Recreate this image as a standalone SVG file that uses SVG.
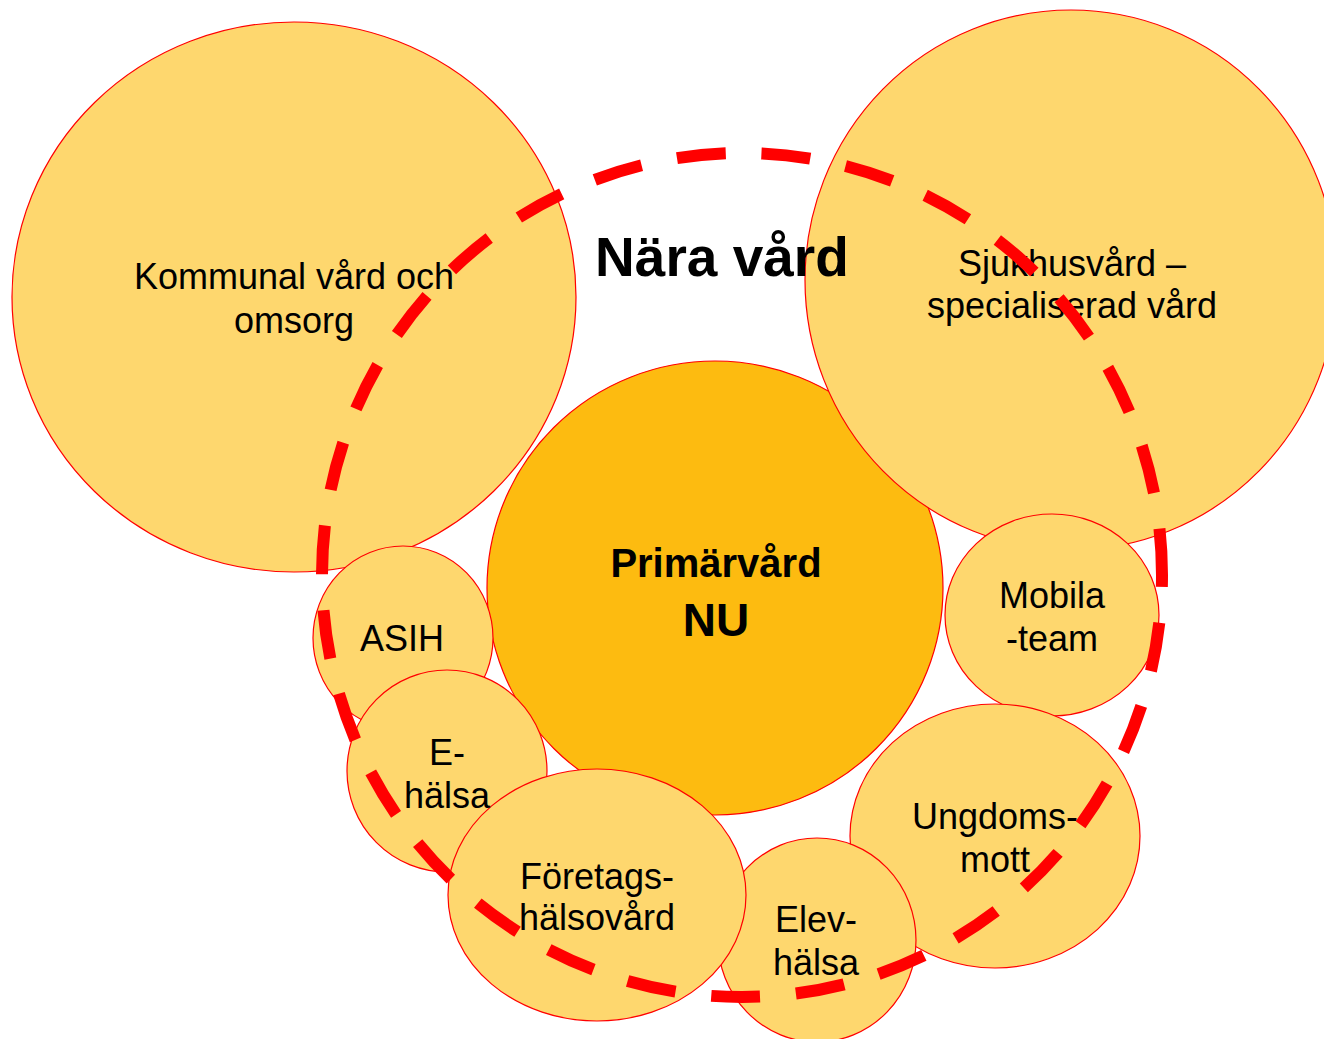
<svg xmlns="http://www.w3.org/2000/svg" width="1324" height="1039" viewBox="0 0 1324 1039">
<style>
.lt{fill:#FED76E;stroke:#FF0000;stroke-width:1.2}
.pr{fill:#FDBB10;stroke:#FF0000;stroke-width:1.2}
.t{font-family:"Liberation Sans",Arial,sans-serif;font-size:36px;fill:#000;text-anchor:middle}
.b{font-family:"Liberation Sans",Arial,sans-serif;font-weight:bold;fill:#000;text-anchor:middle}
.dash{fill:none;stroke:#FF0000;stroke-width:12;stroke-dasharray:49 36;stroke-dashoffset:37}
</style>
<rect width="1324" height="1039" fill="#FFFFFF"/>
<g id="primarvard"><ellipse class="pr" cx="715" cy="588" rx="228" ry="227"/></g>
<g id="kommunal"><ellipse class="lt" cx="294" cy="297" rx="282" ry="275"/></g>
<g id="sjukhus"><ellipse class="lt" cx="1071" cy="280" rx="266" ry="270"/></g>
<g id="mobila"><ellipse class="lt" cx="1052" cy="615" rx="107" ry="101"/></g>
<g id="ungdoms"><ellipse class="lt" cx="995" cy="836" rx="145" ry="132"/></g>
<g id="elev"><ellipse class="lt" cx="817" cy="940" rx="99" ry="102"/></g>
<g id="asih"><ellipse class="lt" cx="403" cy="638" rx="90" ry="92"/></g>
<g id="ehalsa"><ellipse class="lt" cx="447" cy="771" rx="100" ry="101"/></g>
<g id="foretags"><ellipse class="lt" cx="597" cy="895" rx="149" ry="126"/></g>
<g id="labels">
<text class="t" x="294" y="289">Kommunal vård och</text>
<text class="t" x="294" y="333">omsorg</text>
<text class="b" x="722" y="276" font-size="55">Nära vård</text>
<text class="t" x="1072" y="276">Sjukhusvård –</text>
<text class="t" x="1072" y="318">specialiserad vård</text>
<text class="b" x="716" y="577" font-size="40">Primärvård</text>
<text class="b" x="716" y="636" font-size="46">NU</text>
<text class="t" x="1052" y="608">Mobila</text>
<text class="t" x="1052" y="651">-team</text>
<text class="t" x="402" y="651">ASIH</text>
<text class="t" x="447" y="765">E-</text>
<text class="t" x="447" y="808">hälsa</text>
<text class="t" x="597" y="889">Företags-</text>
<text class="t" x="597" y="930">hälsovård</text>
<text class="t" x="816" y="932">Elev-</text>
<text class="t" x="816" y="975">hälsa</text>
<text class="t" x="995" y="829">Ungdoms-</text>
<text class="t" x="995" y="872">mott</text>
</g>
<g id="connectors">
<ellipse class="dash" cx="742" cy="575" rx="420" ry="422"/>
</g>
</svg>
